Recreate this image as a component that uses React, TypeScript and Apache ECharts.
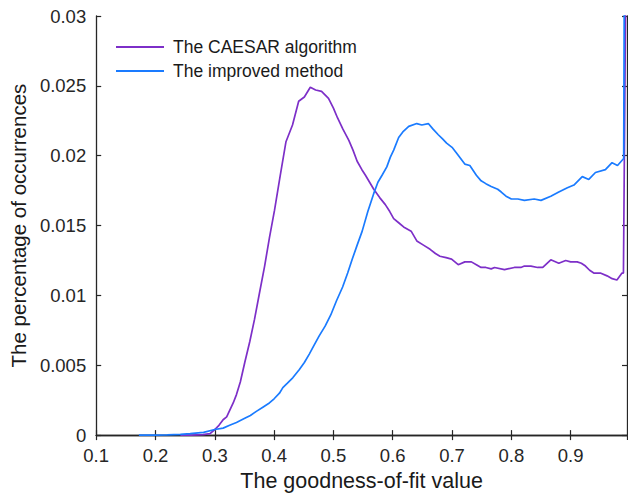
import React, { useEffect, useRef } from "react";
import * as echarts from "echarts";

// Histogram of goodness-of-fit values for the two methods
const caesarX = [
  0.242, 0.26, 0.28, 0.292, 0.3, 0.307, 0.314, 0.32, 0.331, 0.3365, 0.343, 0.3505, 0.359, 0.367,
  0.375, 0.384, 0.392, 0.4007, 0.41, 0.42, 0.431, 0.4414, 0.451, 0.461, 0.47, 0.48, 0.4917, 0.5,
  0.507, 0.516, 0.526, 0.533, 0.54, 0.548, 0.554, 0.561, 0.568, 0.578, 0.5875, 0.595, 0.6016,
  0.61, 0.6183, 0.631, 0.6406, 0.6518, 0.663, 0.672, 0.6796, 0.69, 0.6992, 0.7104, 0.7216,
  0.727, 0.7326, 0.741, 0.749, 0.757, 0.766, 0.7717, 0.7884, 0.805, 0.816, 0.822, 0.833, 0.8443,
  0.853, 0.8665, 0.88, 0.8916, 0.9, 0.911, 0.918, 0.925, 0.932, 0.939, 0.95, 0.9614, 0.97,
  0.978, 0.9866, 0.989, 0.9932,
];
const caesarY = [
  0, 0, 0.00003, 0.0001, 0.0004, 0.0007, 0.0011, 0.0013, 0.0023, 0.0029, 0.0038, 0.0052, 0.0067,
  0.0083, 0.0101, 0.0121, 0.0141, 0.0161, 0.0185, 0.021, 0.0222, 0.0239, 0.0242, 0.0249, 0.0247,
  0.0246, 0.0241, 0.0234, 0.0227, 0.0219, 0.0211, 0.0204, 0.0196, 0.019, 0.0186, 0.0181, 0.0176,
  0.017, 0.0165, 0.016, 0.0155, 0.0152, 0.0149, 0.0146, 0.0139, 0.0136, 0.0133, 0.013, 0.0128,
  0.0127, 0.0126, 0.0122, 0.0124, 0.0124, 0.0124, 0.0122, 0.012, 0.012, 0.0119, 0.012, 0.01184,
  0.012, 0.012, 0.0121, 0.0121, 0.012, 0.012, 0.01255, 0.0123, 0.0125, 0.0124, 0.0124, 0.0123,
  0.0121, 0.0118, 0.0116, 0.0116, 0.0114, 0.0112, 0.0111, 0.0116, 0.0116, 0.034,
];

const improvedX = [
  0.172, 0.2, 0.22, 0.242, 0.2585, 0.281, 0.3, 0.314, 0.325, 0.3365, 0.3505, 0.36, 0.37, 0.381,
  0.392, 0.4, 0.409, 0.4147, 0.422, 0.4314, 0.4426, 0.451, 0.4593, 0.467, 0.476, 0.486, 0.4955,
  0.505, 0.5155, 0.524, 0.5318, 0.54, 0.5485, 0.558, 0.568, 0.575, 0.582, 0.59, 0.596, 0.6016,
  0.61, 0.617, 0.627, 0.6406, 0.649, 0.66, 0.668, 0.6768, 0.684, 0.6908, 0.7, 0.7075, 0.7215,
  0.73, 0.741, 0.749, 0.757, 0.766, 0.777, 0.783, 0.791, 0.8, 0.811, 0.822, 0.8385, 0.85, 0.8665,
  0.88, 0.8945, 0.9055, 0.9196, 0.9306, 0.9418, 0.9586, 0.9698, 0.979, 0.9894, 0.9906,
];
const improvedY = [
  0, 0, 0.00002, 0.00005, 0.0001, 0.0002, 0.0004, 0.0005, 0.0007, 0.0009, 0.0012, 0.0014, 0.0017,
  0.002, 0.0023, 0.0026, 0.003, 0.0034, 0.0037, 0.0041, 0.0047, 0.0052, 0.0058, 0.0064, 0.0071,
  0.0078, 0.0086, 0.0096, 0.0106, 0.0116, 0.0126, 0.0136, 0.0146, 0.016, 0.0173, 0.0181, 0.0186,
  0.0192, 0.0199, 0.0204, 0.0213, 0.0217, 0.0221, 0.0223, 0.0222, 0.0223, 0.0219, 0.0215, 0.0212,
  0.0209, 0.0206, 0.0202, 0.0194, 0.0193, 0.0186, 0.0182, 0.018, 0.0178, 0.0176, 0.0174, 0.0171,
  0.0169, 0.0169, 0.0168, 0.0169, 0.0168, 0.0171, 0.0174, 0.0177, 0.0179, 0.0185, 0.0183, 0.0188,
  0.019, 0.0195, 0.0193, 0.0198, 0.034,
];

const seriesNames = ["The CAESAR algorithm", "The improved method"];
const xTitle = "The goodness-of-fit value";
const yTitle = "The percentage of occurrences";

const FONT = "'Liberation Sans', Arial, Helvetica, sans-serif";
const AXIS_COLOR = "#262626";

const pairs = (xs: number[], ys: number[]) => xs.map((x, i) => [x, ys[i]]);

export default function App() {
  const ref = useRef<HTMLDivElement>(null);

  useEffect(() => {
    if (!ref.current) return;
    const chart = echarts.init(ref.current, undefined, { renderer: "svg" });

    const axisLine = { show: true, lineStyle: { color: AXIS_COLOR, width: 1.3 } };
    const axisTick = { show: true, inside: true, length: 5, lineStyle: { color: AXIS_COLOR, width: 1.2 } };

    chart.setOption({
      animation: false,
      backgroundColor: "#ffffff",
      grid: { left: 92, right: 1, top: 16, bottom: 61.5, containLabel: false },
      legend: {
        show: true,
        orient: "vertical",
        left: 116,
        top: 37,
        padding: 0,
        icon: "rect",
        itemWidth: 48,
        itemHeight: 2,
        itemGap: 4,
        textStyle: {
          fontFamily: FONT,
          fontSize: 17.5,
          color: "#1a1a1a",
          lineHeight: 20,
          padding: [0, 0, 0, 4],
        },
        data: seriesNames,
      },
      xAxis: [
        {
          type: "value",
          min: 0.1,
          max: 0.995,
          interval: 0.1,
          position: "bottom",
          name: xTitle,
          nameLocation: "middle",
          nameGap: 33,
          nameTextStyle: { fontFamily: FONT, fontSize: 21.5, color: "#1a1a1a" },
          axisLine,
          axisTick,
          splitLine: { show: false },
          axisLabel: {
            fontFamily: FONT,
            fontSize: 18.5,
            color: "#262626",
            margin: 11,
            showMaxLabel: false,
            formatter: (v: number) => v.toFixed(1),
          },
        },
        {
          type: "value",
          min: 0.1,
          max: 0.995,
          interval: 0.1,
          position: "top",
          axisLine,
          axisTick,
          axisLabel: { show: false },
          splitLine: { show: false },
        },
      ],
      yAxis: [
        {
          type: "value",
          min: 0,
          max: 0.03,
          interval: 0.005,
          position: "left",
          name: yTitle,
          nameLocation: "middle",
          nameGap: 64,
          nameTextStyle: { fontFamily: FONT, fontSize: 20.5, color: "#1a1a1a" },
          axisLine,
          axisTick,
          splitLine: { show: false },
          axisLabel: {
            fontFamily: FONT,
            fontSize: 18.5,
            color: "#262626",
            margin: 10,
            formatter: (v: number) => String(parseFloat(v.toFixed(3))),
          },
        },
        {
          type: "value",
          min: 0,
          max: 0.03,
          interval: 0.005,
          position: "right",
          axisLine,
          axisTick,
          axisLabel: { show: false },
          splitLine: { show: false },
        },
      ],
      series: [
        {
          name: seriesNames[0],
          type: "line",
          data: pairs(caesarX, caesarY),
          showSymbol: false,
          symbol: "none",
          clip: true,
          color: "#7D2FC8",
          lineStyle: { color: "#7D2FC8", width: 1.7 },
          z: 2,
        },
        {
          name: seriesNames[1],
          type: "line",
          data: pairs(improvedX, improvedY),
          showSymbol: false,
          symbol: "none",
          clip: true,
          color: "#1A7BFF",
          lineStyle: { color: "#1A7BFF", width: 1.7 },
          z: 3,
        },
      ],
    });

    return () => chart.dispose();
  }, []);

  return (
    <div
      ref={ref}
      style={{ position: "fixed", left: 0, top: 0, width: 628, height: 497, background: "#fff" }}
    />
  );
}
